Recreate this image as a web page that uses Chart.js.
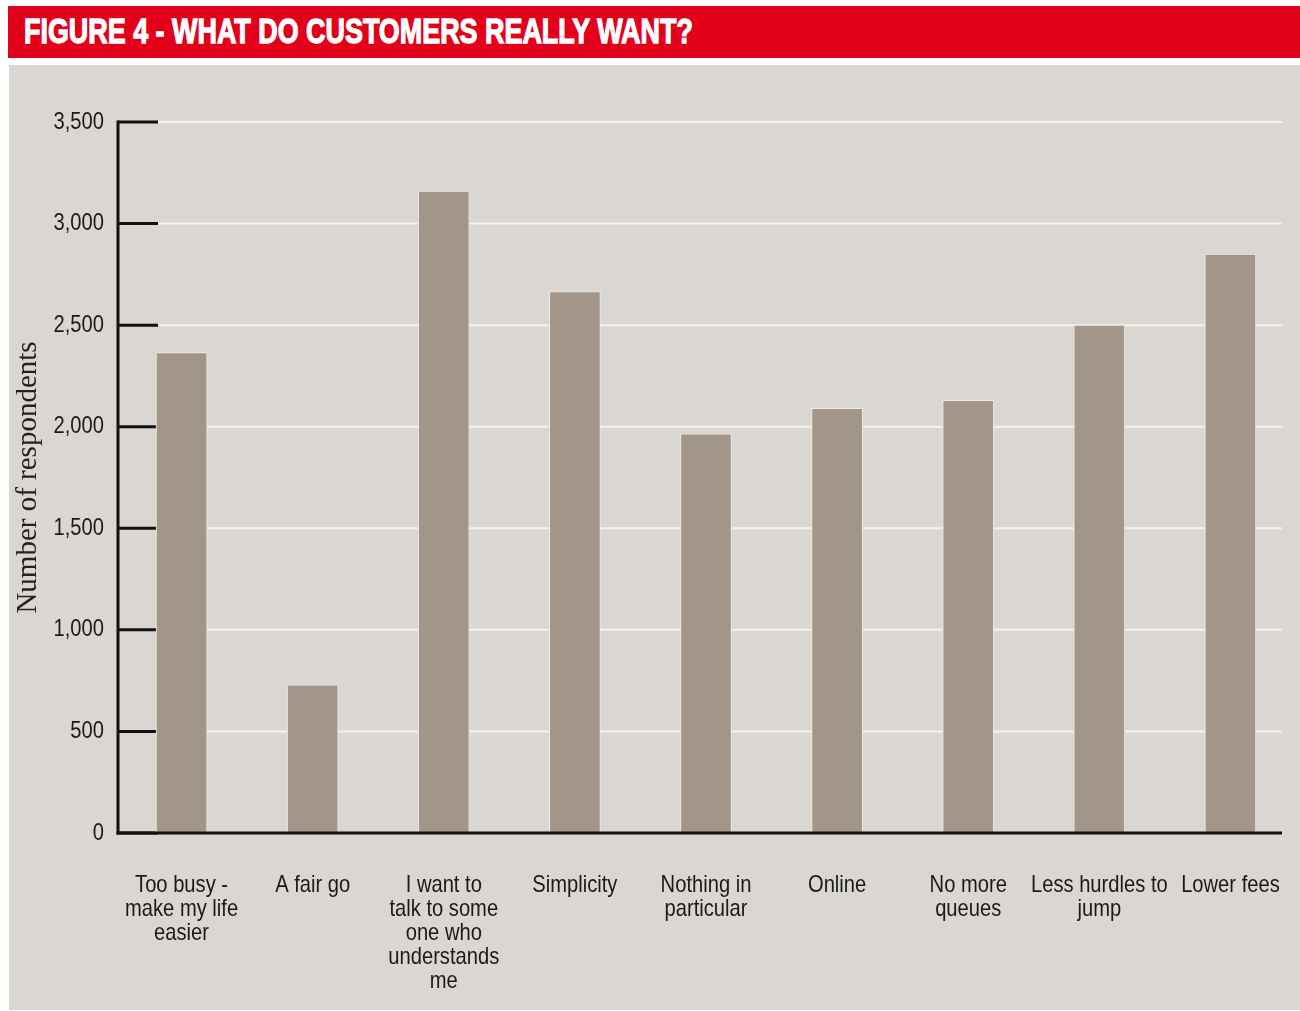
<!DOCTYPE html>
<html>
<head>
<meta charset="utf-8">
<script src="https://cdn.jsdelivr.net/npm/chart.js@4"></script>
<style>
  body { margin: 0; background: #fff; width: 1300px; height: 1011px; position: relative; overflow: hidden; }
  #header {
    position: absolute; left: 8px; top: 6px; width: 1292px; height: 52px;
    background: #e2001a; overflow: hidden;
  }
  #title {
    position: absolute; left: 16px; top: 5px; white-space: nowrap;
    font-family: "Liberation Sans", Arial, sans-serif; font-weight: bold; font-size: 35px;
    color: #fff; -webkit-text-stroke: 1.3px #fff; transform-origin: 0 0;
  }
  #panel {
    position: absolute; left: 9px; top: 65px; width: 1291px; height: 945px;
    background: #dad7d2;
  }
</style>
</head>
<body>
<div id="header"><span id="title">FIGURE 4 - WHAT DO CUSTOMERS REALLY WANT?</span></div>
<div id="panel"><canvas id="myChart" width="1291" height="945"></canvas></div>
<script>
let categories = [
  ["Too busy -", "make my life", "easier"],
  ["A fair go"],
  ["I want to", "talk to some", "one who", "understands", "me"],
  ["Simplicity"],
  ["Nothing in", "particular"],
  ["Online"],
  ["No more", "queues"],
  ["Less hurdles to", "jump"],
  ["Lower fees"],
];
let respondents = [2365, 730, 3160, 2665, 1965, 2090, 2130, 2500, 2850];
let yTicks = [0, 500, 1000, 1500, 2000, 2500, 3000, 3500];

// squeeze the bold title into a condensed look
let title = document.getElementById("title");
title.style.transform = "scaleX(" + (669 / title.offsetWidth) + ")";

const labelFont = "24px 'Liberation Sans', Arial, sans-serif";
const squeeze = 0.84; // no narrow face installed, so the labels get squeezed

function narrowText(ctx, text, x, y, align) {
  ctx.save();
  ctx.translate(x, y);
  ctx.scale(squeeze, 1);
  ctx.textAlign = align;
  ctx.fillText(text, 0, 0);
  ctx.restore();
}

// grid lines behind the bars, black axis, ticks and labels
const axisBits = {
  id: "axisBits",
  beforeDatasetsDraw(chart) {
    const { ctx, chartArea, scales } = chart;
    const axisX = chartArea.left + 2;
    const end = chartArea.right - 14;
    ctx.save();
    ctx.strokeStyle = "#f4f2ef";
    ctx.lineWidth = 2;
    yTicks.forEach((v) => {
      if (v === 0) return;
      const y = scales.y.getPixelForValue(v);
      ctx.beginPath();
      ctx.moveTo(axisX, y);
      ctx.lineTo(end, y);
      ctx.stroke();
    });
    ctx.strokeStyle = "#111";
    ctx.lineWidth = 3;
    yTicks.forEach((v) => {
      const y = scales.y.getPixelForValue(v);
      ctx.beginPath();
      ctx.moveTo(axisX, y);
      ctx.lineTo(axisX + 40, y);
      ctx.stroke();
    });
    ctx.beginPath();
    ctx.moveTo(axisX, scales.y.getPixelForValue(3500) - 1.5);
    ctx.lineTo(axisX, scales.y.getPixelForValue(0) + 1.5);
    ctx.stroke();
    ctx.restore();
  },
  afterDatasetsDraw(chart) {
    const { ctx, chartArea, scales } = chart;
    const axisX = chartArea.left + 2;
    const y0 = scales.y.getPixelForValue(0);
    ctx.save();
    ctx.strokeStyle = "#111";
    ctx.lineWidth = 3;
    ctx.beginPath();
    ctx.moveTo(axisX - 1.5, y0);
    ctx.lineTo(chartArea.right - 14, y0);
    ctx.stroke();

    ctx.fillStyle = "#1a1a1a";
    ctx.font = labelFont;
    ctx.textBaseline = "middle";
    yTicks.forEach((v) => {
      narrowText(ctx, v.toLocaleString("en-US"), axisX - 14, scales.y.getPixelForValue(v), "right");
    });
    categories.forEach((lines, i) => {
      const x = scales.x.getPixelForTick(i);
      lines.forEach((line, j) => {
        narrowText(ctx, line, x, y0 + 52 + j * 24, "center");
      });
    });
    ctx.restore();
  },
};

new Chart(document.getElementById("myChart"), {
  type: "bar",
  data: {
    labels: categories,
    datasets: [
      {
        data: respondents,
        backgroundColor: "#a29689",
        borderColor: "#eeebe6",
        borderWidth: 1,
        barThickness: 51,
      },
    ],
  },
  options: {
    responsive: false,
    animation: false,
    devicePixelRatio: 1,
    layout: { padding: { top: 57, right: 4, left: 0, bottom: 0 } },
    plugins: { legend: { display: false }, tooltip: { enabled: false } },
    scales: {
      x: {
        grid: { display: false },
        border: { display: false },
        ticks: { display: false },
        afterFit(scale) {
          scale.paddingLeft = 0;
          scale.paddingRight = 0;
          scale.height = 177;
        },
      },
      y: {
        min: 0,
        max: 3500,
        ticks: { display: false, stepSize: 500 },
        grid: { display: false },
        border: { display: false },
        title: {
          display: true,
          text: "Number of respondents",
          color: "#222",
          padding: { top: 2, bottom: 0 },
          font: { family: "'Liberation Serif', 'Times New Roman', serif", size: 29, lineHeight: 1.2 },
        },
        afterFit(scale) {
          scale.paddingTop = 0;
          scale.paddingBottom = 0;
          scale.width = 107;
        },
      },
    },
  },
  plugins: [axisBits],
});
</script>
</body>
</html>
